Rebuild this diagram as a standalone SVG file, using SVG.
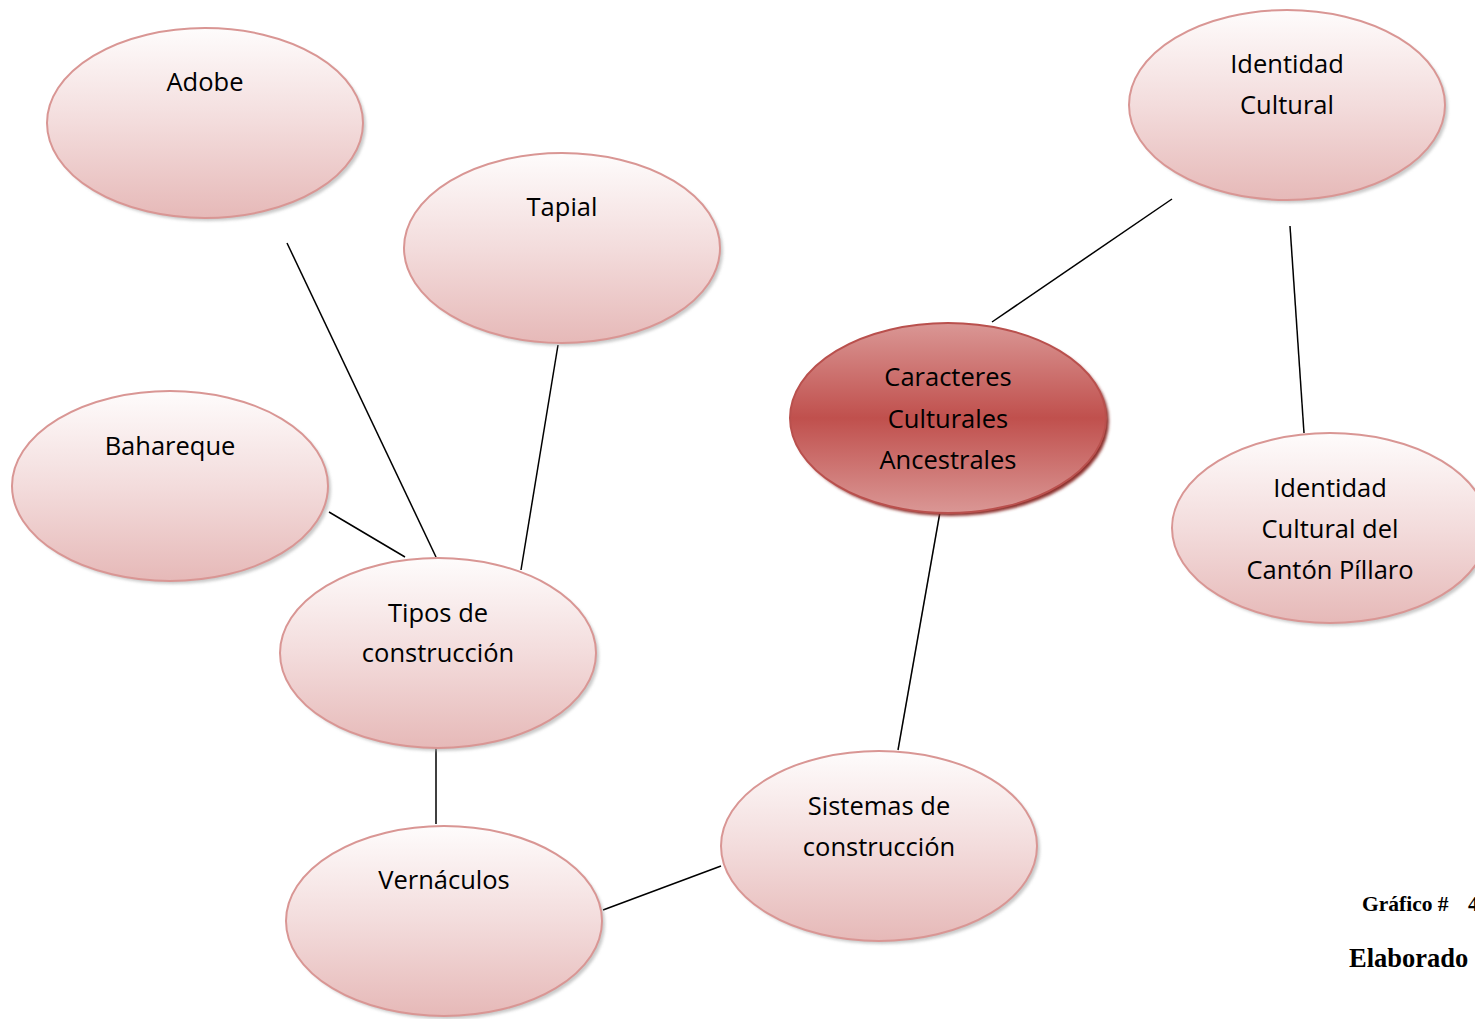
<svg xmlns="http://www.w3.org/2000/svg" width="1475" height="1019" viewBox="0 0 1475 1019">
<style>
.n{fill:url(#g1);stroke:#d99694;stroke-width:2}
.sh{fill:#a6a6a6;opacity:0.6}
.c{fill:url(#g2);stroke:#b9504d;stroke-width:2}
.csh{fill:#8b2f2c}
text{font-family:"Open Sans","Noto Sans",sans-serif;font-size:25.5px;fill:#000;text-anchor:middle}
.cap{font-family:"Liberation Serif",serif;font-weight:bold;text-anchor:start}
.l{stroke:#000;stroke-width:1.5;fill:none}
</style>
<defs>
<linearGradient id="g1" x1="0" y1="0" x2="0" y2="1">
<stop offset="0" stop-color="#fefcfc"/>
<stop offset="0.5" stop-color="#f3dcdc"/>
<stop offset="1" stop-color="#e6b9b8"/>
</linearGradient>
<linearGradient id="g2" x1="0" y1="0" x2="0" y2="1">
<stop offset="0" stop-color="#da9795"/>
<stop offset="0.5" stop-color="#c0504d"/>
<stop offset="1" stop-color="#da9795"/>
</linearGradient>
<filter id="b" x="-10%" y="-10%" width="120%" height="120%"><feGaussianBlur stdDeviation="1.5"/></filter>
</defs>
<g id="connectors">
<line class="l" x1="287" y1="243" x2="436" y2="557"/>
<line class="l" x1="558" y1="345" x2="521" y2="570"/>
<line class="l" x1="329" y1="512" x2="405" y2="557"/>
<line class="l" x1="436" y1="745" x2="436" y2="824"/>
<line class="l" x1="603" y1="910" x2="721" y2="866"/>
<line class="l" x1="940" y1="512" x2="898" y2="750"/>
<line class="l" x1="992" y1="322" x2="1172" y2="199"/>
<line class="l" x1="1290" y1="226" x2="1304" y2="433"/>
</g>
<g id="adobe">
<ellipse class="sh" filter="url(#b)" cx="208" cy="126" rx="158" ry="95"/>
<ellipse class="n" cx="205" cy="123" rx="158" ry="95"/>
<text x="205" y="91">Adobe</text>
</g>
<g id="tapial">
<ellipse class="sh" filter="url(#b)" cx="565" cy="251" rx="158" ry="95"/>
<ellipse class="n" cx="562" cy="248" rx="158" ry="95"/>
<text x="562" y="216">Tapial</text>
</g>
<g id="bahareque">
<ellipse class="sh" filter="url(#b)" cx="173" cy="489" rx="158" ry="95"/>
<ellipse class="n" cx="170" cy="486" rx="158" ry="95"/>
<text x="170" y="455">Bahareque</text>
</g>
<g id="tipos">
<ellipse class="sh" filter="url(#b)" cx="441" cy="656" rx="158" ry="95"/>
<ellipse class="n" cx="438" cy="653" rx="158" ry="95"/>
<text x="438" y="622">Tipos de</text>
<text x="438" y="662">construcción</text>
</g>
<g id="vernaculos">
<ellipse class="sh" filter="url(#b)" cx="447" cy="924" rx="158" ry="95"/>
<ellipse class="n" cx="444" cy="921" rx="158" ry="95"/>
<text x="444" y="889">Vernáculos</text>
</g>
<g id="sistemas">
<ellipse class="sh" filter="url(#b)" cx="882" cy="849" rx="158" ry="95"/>
<ellipse class="n" cx="879" cy="846" rx="158" ry="95"/>
<text x="879" y="815">Sistemas de</text>
<text x="879" y="856">construcción</text>
</g>
<g id="caracteres">
<ellipse class="csh" filter="url(#b)" cx="951" cy="421" rx="158" ry="95"/>
<ellipse class="c" cx="948" cy="418" rx="158" ry="95"/>
<text x="948" y="386">Caracteres</text>
<text x="948" y="428">Culturales</text>
<text x="948" y="469">Ancestrales</text>
</g>
<g id="identidad">
<ellipse class="sh" filter="url(#b)" cx="1290" cy="108" rx="158" ry="95"/>
<ellipse class="n" cx="1287" cy="105" rx="158" ry="95"/>
<text x="1287" y="73">Identidad</text>
<text x="1287" y="114">Cultural</text>
</g>
<g id="identidad-pillaro">
<ellipse class="sh" filter="url(#b)" cx="1333" cy="531" rx="158" ry="95"/>
<ellipse class="n" cx="1330" cy="528" rx="158" ry="95"/>
<text x="1330" y="497">Identidad</text>
<text x="1330" y="538">Cultural del</text>
<text x="1330" y="579">Cantón Píllaro</text>
</g>
<g id="caption">
<text class="cap" x="1362" y="911" style="font-size:21.5px">Gráfico #<tspan x="1468">4</tspan></text>
<text class="cap" x="1349" y="967" style="font-size:26.5px">Elaborado</text>
</g>
</svg>
